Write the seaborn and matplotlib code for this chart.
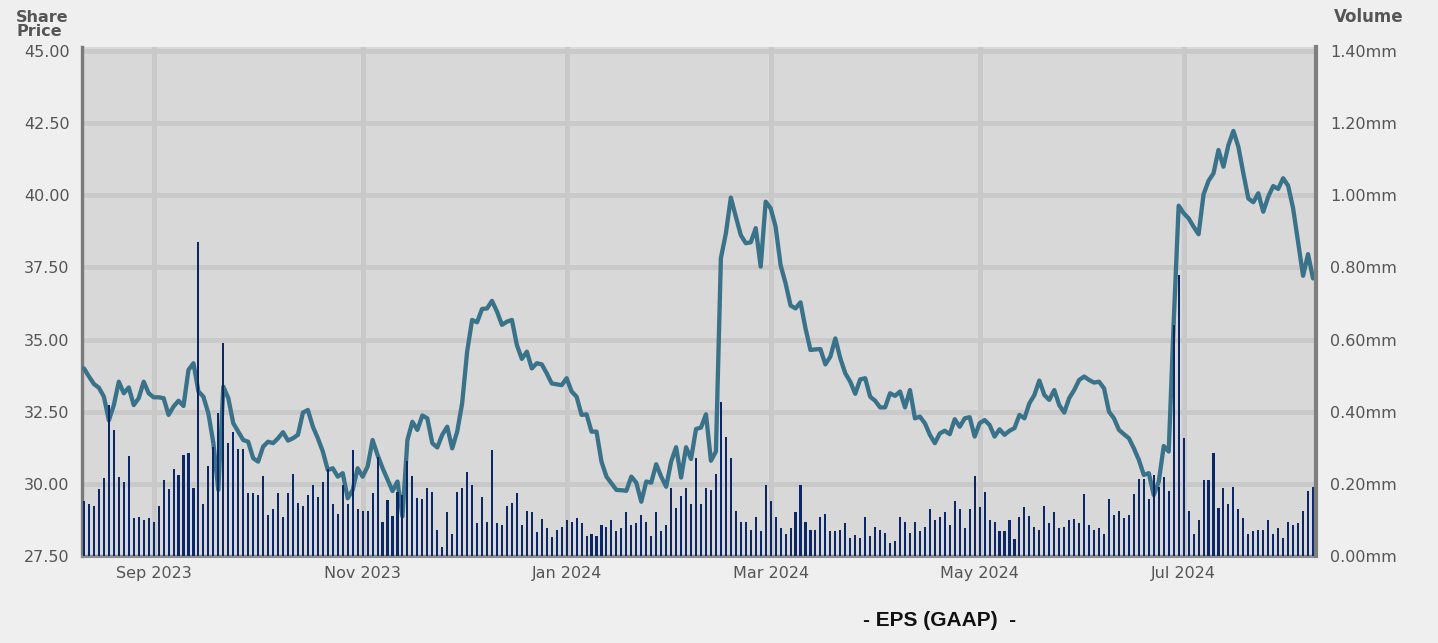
import numpy as np
import pandas as pd
import matplotlib
matplotlib.use('Agg')
import matplotlib.pyplot as plt
import seaborn as sns

# Trading days shown on the chart (Aug 14 2023 - Aug 7 2024, US market holidays removed)
start_day = '2023-08-14'
end_day = '2024-08-07'
holidays = ['2023-09-04', '2023-11-23', '2023-12-25', '2024-01-01', '2024-01-15',
            '2024-02-19', '2024-03-29', '2024-05-27', '2024-06-19', '2024-07-04']

# Month starts that get a gridline / label
tick_months = ['2023-09-01', '2023-11-01', '2024-01-01', '2024-03-01', '2024-05-01', '2024-07-01']

# Closing share price, one value per trading day
price = [
    # Aug 2023
    34.00, 33.72, 33.46, 33.33, 33.02, 32.20, 32.73, 33.54, 33.14, 33.34,
    32.73, 32.97, 33.54, 33.14,
    # Sep 2023
    33.00, 33.00, 32.97, 32.39, 32.68, 32.88, 32.70, 33.95, 34.18, 33.20,
    33.02, 32.44, 31.41, 29.79, 33.37, 32.97, 32.10, 31.81, 31.52, 31.46,
    # Oct 2023
    30.89, 30.77, 31.29, 31.46, 31.41, 31.58, 31.79, 31.50, 31.58, 31.70,
    32.47, 32.56, 31.98, 31.58, 31.12, 30.48, 30.54, 30.25, 30.37, 29.50,
    29.79, 30.54,
    # Nov 2023
    30.25, 30.60, 31.52, 31.00, 30.55, 30.15, 29.75, 30.08, 28.87, 31.52,
    32.15, 31.87, 32.37, 32.27, 31.41, 31.26, 31.70, 31.98, 31.23, 31.81,
    32.79,
    # Dec 2023
    34.58, 35.68, 35.60, 36.06, 36.08, 36.34, 35.97, 35.51, 35.62, 35.68,
    34.81, 34.33, 34.58, 34.00, 34.18, 34.14, 33.83, 33.48, 33.45, 33.42,
    # Jan 2024
    33.66, 33.20, 33.02, 32.39, 32.41, 31.81, 31.81, 30.77, 30.25, 30.02,
    29.79, 29.78, 29.76, 30.25, 30.04, 29.38, 30.08, 30.04, 30.68, 30.25,
    29.90,
    # Feb 2024
    30.77, 31.27, 30.22, 31.27, 30.86, 31.90, 31.95, 32.41, 30.80, 31.12,
    37.82, 38.68, 39.92, 39.26, 38.62, 38.34, 38.37, 38.86, 37.53, 39.78,
    # Mar 2024
    39.55, 38.91, 37.58, 36.95, 36.18, 36.08, 36.29, 35.39, 34.64, 34.66,
    34.67, 34.14, 34.41, 35.04, 34.35, 33.83, 33.54, 33.12, 33.62, 33.66,
    # Apr 2024
    33.02, 32.88, 32.65, 32.65, 33.14, 33.05, 33.20, 32.65, 33.25, 32.27,
    32.33, 32.10, 31.70, 31.41, 31.75, 31.84, 31.72, 32.24, 31.98, 32.27,
    32.31, 31.64,
    # May 2024
    32.10, 32.21, 32.04, 31.64, 31.89, 31.70, 31.84, 31.93, 32.39, 32.27,
    32.79, 33.08, 33.58, 33.08, 32.91, 33.25, 32.73, 32.47, 32.97, 33.25,
    33.60, 33.72,
    # Jun 2024
    33.60, 33.51, 33.54, 33.31, 32.50, 32.27, 31.87, 31.72, 31.58, 31.23,
    30.83, 30.31, 30.37, 29.61, 30.08, 31.31, 31.12, 35.60, 39.64,
    # Jul 2024
    39.38, 39.20, 38.91, 38.65, 40.03, 40.50, 40.76, 41.57, 40.99, 41.74,
    42.23, 41.68, 40.76, 39.89, 39.76, 40.07, 39.43, 39.95, 40.32, 40.22,
    40.59, 40.33,
    # Aug 2024
    39.55, 38.39, 37.21, 37.96, 37.12,
]

# Daily volume in millions of shares
volume = [
    0.152, 0.144, 0.139, 0.185, 0.215, 0.419, 0.349, 0.220, 0.206, 0.277,
    0.104, 0.109, 0.100, 0.104, 0.095, 0.139, 0.211, 0.185, 0.240, 0.225,
    0.280, 0.285, 0.188, 0.871, 0.144, 0.249, 0.303, 0.397, 0.591, 0.312,
    0.344, 0.298, 0.298, 0.174, 0.174, 0.169, 0.223, 0.114, 0.129, 0.174,
    0.109, 0.174, 0.227, 0.148, 0.139, 0.169, 0.197, 0.163, 0.206, 0.240,
    0.143, 0.116, 0.197, 0.143, 0.294, 0.130, 0.125, 0.125, 0.174, 0.275,
    0.093, 0.155, 0.112, 0.178, 0.169, 0.263, 0.223, 0.162, 0.157, 0.188,
    0.178, 0.072, 0.026, 0.121, 0.060, 0.178, 0.188, 0.232, 0.197, 0.091,
    0.164, 0.093, 0.294, 0.091, 0.086, 0.139, 0.148, 0.174, 0.086, 0.125,
    0.121, 0.067, 0.103, 0.077, 0.054, 0.072, 0.081, 0.100, 0.093, 0.104,
    0.091, 0.056, 0.060, 0.056, 0.086, 0.081, 0.100, 0.069, 0.078, 0.121,
    0.086, 0.091, 0.114, 0.095, 0.056, 0.121, 0.069, 0.086, 0.188, 0.132,
    0.166, 0.188, 0.144, 0.273, 0.144, 0.188, 0.183, 0.228, 0.428, 0.329,
    0.273, 0.126, 0.095, 0.095, 0.072, 0.109, 0.069, 0.197, 0.152, 0.109,
    0.077, 0.060, 0.078, 0.121, 0.197, 0.093, 0.072, 0.072, 0.107, 0.116,
    0.069, 0.069, 0.072, 0.091, 0.051, 0.058, 0.051, 0.107, 0.055, 0.081,
    0.072, 0.063, 0.035, 0.042, 0.107, 0.095, 0.065, 0.095, 0.069, 0.081,
    0.129, 0.100, 0.107, 0.122, 0.086, 0.152, 0.129, 0.078, 0.129, 0.223,
    0.135, 0.178, 0.100, 0.095, 0.069, 0.069, 0.100, 0.046, 0.107, 0.135,
    0.112, 0.081, 0.072, 0.139, 0.091, 0.122, 0.077, 0.081, 0.100, 0.103,
    0.091, 0.171, 0.086, 0.072, 0.077, 0.060, 0.157, 0.114, 0.126, 0.104,
    0.114, 0.171, 0.213, 0.213, 0.157, 0.225, 0.192, 0.220, 0.180, 0.640,
    0.779, 0.326, 0.126, 0.060, 0.100, 0.211, 0.211, 0.285, 0.134, 0.188,
    0.145, 0.192, 0.130, 0.104, 0.060, 0.069, 0.072, 0.072, 0.100, 0.060,
    0.077, 0.051, 0.095, 0.086, 0.091, 0.126, 0.180, 0.192,
]

price_ticks = [27.5, 30.0, 32.5, 35.0, 37.5, 40.0, 42.5, 45.0]
volume_ticks = [0.0, 0.2, 0.4, 0.6, 0.8, 1.0, 1.2, 1.4]

days = pd.bdate_range(start_day, end_day)
days = days[~days.isin(pd.to_datetime(holidays))]
df = pd.DataFrame({'day': np.arange(len(days)), 'date': days,
                   'price': price, 'volume': volume})

# x axis is trading-day index; month labels sit on the first trading day
tick_pos = [int(np.argmax(days >= pd.Timestamp(m))) for m in tick_months]
tick_labels = [pd.Timestamp(m).strftime('%b %Y') for m in tick_months]

sns.set_theme(style='white')
plt.rcParams['font.family'] = ['DejaVu Sans']

W, H = 1438, 643
fig = plt.figure(figsize=(W / 100, H / 100), dpi=100, facecolor='#efefef')
ax = fig.add_axes([82 / W, 1 - 556 / H, (1316 - 82) / W, (556 - 47) / H])
ax.set_facecolor('#d8d8d8')
ax2 = ax.twinx()

sns.lineplot(data=df, x='day', y='price', ax=ax, color='#3a7389',
             linewidth=3.1, zorder=3)
sns.barplot(data=df, x='day', y='volume', ax=ax2, native_scale=True,
            width=0.42, color='#0c2766', saturation=1, errorbar=None,
            linewidth=0)
# crisp 2px bars like the original
for bar in ax2.patches:
    bar.set_antialiased(False)

n = len(df)
ax.set_xlim(-0.4, n - 1 + 0.6)
ax2.set_xlim(-0.4, n - 1 + 0.6)
ax.set_ylim(27.5, 45.0 + 4 / 505 * 17.5)
ax2.set_ylim(0, 1.4 + 4 / 505 * 1.4)

ax.set_xticks(tick_pos)
ax.set_xticklabels(tick_labels)
ax.set_yticks(price_ticks)
ax.set_yticklabels([f'{v:.2f}' for v in price_ticks])
ax2.set_yticks(volume_ticks)
ax2.set_yticklabels([f'{v:.2f}mm' for v in volume_ticks])

ax.grid(True, color='#c9c9c9', linewidth=3.6)
ax.set_axisbelow(True)
ax2.grid(False)

for a in (ax, ax2):
    a.set_xlabel('')
    a.set_ylabel('')

ax.tick_params(axis='y', length=0, pad=9, labelsize=11.5, labelcolor='#555555')
ax2.tick_params(axis='y', length=0, pad=10, labelsize=11.5, labelcolor='#555555')
ax.tick_params(axis='x', length=4, width=1.5, color='#c5d3ea', pad=3,
               labelsize=11.5, labelcolor='#555555')
ax2.tick_params(axis='x', length=0, labelbottom=False)

ax.spines['top'].set_visible(False)
ax.spines['right'].set_visible(False)
ax.spines['left'].set_color('#7a7a7a')
ax.spines['left'].set_linewidth(2.4)
ax.spines['bottom'].set_color('#8e8e8e')
ax.spines['bottom'].set_linewidth(2.2)
for s in ('top', 'left', 'bottom'):
    ax2.spines[s].set_visible(False)
ax2.spines['right'].set_color('#7f7f7f')
ax2.spines['right'].set_linewidth(3.0)

fig.text(16 / W, 1 - 10 / H, 'Share\nPrice', ha='left', va='top', fontsize=11.5,
         fontweight='bold', color='#555555', linespacing=0.95)
fig.text(1334 / W, 1 - 17 / H, 'Volume', ha='left', va='center', fontsize=12,
         fontweight='bold', color='#555555')
fig.text(940 / W, 1 - 620 / H, '- EPS (GAAP)  -', ha='center', va='center',
         fontsize=15, fontweight='bold', color='#111111',
         family=['Liberation Sans', 'DejaVu Sans'])

fig.savefig('out.png', dpi=100, facecolor=fig.get_facecolor())
